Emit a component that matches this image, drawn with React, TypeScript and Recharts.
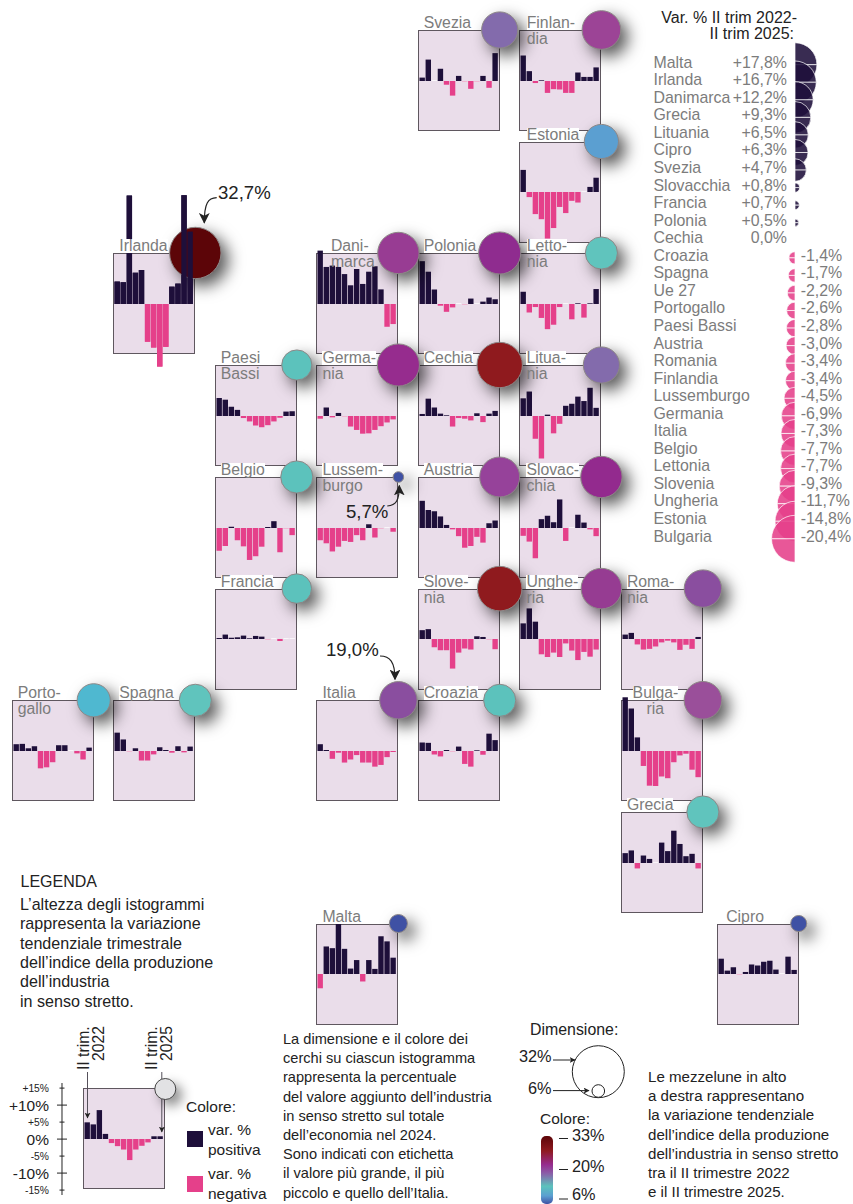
import { Bar, BarChart, Cell, Pie, PieChart, Scatter, ScatterChart, XAxis, YAxis } from "recharts";

const FONT = "'Liberation Sans', Arial, sans-serif";
const DARK = "#1e0f3a";
const PINK = "#e5408a";
const TEXT = "#222222";
const GREY = "#7c7c7c";

// % change per quarter, II 2022 -> II 2025
const svezia = [1.0, 6.3, 0, 3.6, -1.1, -4.3, 1.5, -0.1, -2.3, -0.2, 1.5, -2.0, 8.2];
const finlandia = [7.5, 2.9, -0.6, 0.2, -3.5, -2.4, -2.5, -3.5, -3.5, 2.5, 1.2, 1.2, 4.0];
const estonia = [6.5, -1.5, -6.5, -8.0, -13.7, -10.6, -4.4, -6.2, -2.6, -3.1, 0, 1.5, 4.2];
const irlanda = [6.6, 6.4, 31.9, 9.2, 10.0, -11.1, -12.8, -18.4, -12.6, 5.1, 6.0, 32.0, 21.3];
const danimarca = [15.7, 10.9, 11.3, 10.9, 8.8, 5.5, 10.3, 5.9, 9.5, 11.1, 4.3, -6.7, -5.9];
const polonia = [12.6, 9.5, 4.3, -0.5, -2.3, -1.0, 0, -0.1, 1.6, 0, 0.7, 1.9, 1.4];
const lettonia = [3.6, -2.5, -0.9, -4.1, -7.4, -6.1, -0.9, 0, -4.5, 0.1, -4.0, 0.2, 4.4];
const paesiBassi = [5.3, 4.8, 2.7, 1.8, -0.6, -1.6, -2.8, -3.3, -2.7, -1.6, -0.5, 1.3, 1.4];
const germania = [-0.8, 2.5, -0.4, 0.9, -0.2, -3.1, -4.1, -5.2, -5.1, -4.1, -3.0, -1.9, -1.0];
const cechia = [0.6, 5.1, 2.5, 0.7, 0.2, -3.1, -0.6, -0.8, -1.3, 0.8, -1.8, 0.7, 1.5];
const lituania = [5.2, 7.2, -6.7, -12.5, 0.4, -5.1, -2.3, 3.0, 3.6, 5.7, 4.4, 8.3, 2.4];
const belgio = [-6.7, -5.3, 0.4, -3.6, -5.4, -9.4, -8.3, -5.5, 0.3, 2.0, -7.1, -0.1, -2.1];
const lussemburgo = [-3.6, -4.5, -6.9, -5.5, -3.8, -4.1, -2.1, -3.6, 1.1, -2.8, -0.1, 0, -1.1];
const austria = [8.0, 5.3, 4.9, 3.4, 0.9, -0.4, -2.4, -5.8, -5.3, -2.6, -4.3, 1.4, 2.2];
const slovacchia = [-2.3, -4.0, -8.9, 2.6, 3.6, 1.7, 8.4, -3.8, 0, 3.9, 1.6, -0.4, -2.4];
const francia = [0.3, 1.3, 0.4, 0.5, 1.0, 0.2, 0.9, 0.7, -0.2, 0, -0.6, 0, 0];
const slovenia = [2.6, 2.9, -2.4, -3.3, -3.3, -8.7, -4.0, -2.8, -3.1, 0.8, 0.6, -0.2, -3.0];
const ungheria = [4.6, 9.0, 5.1, -4.5, -5.3, -4.0, -5.3, -1.3, -3.4, -6.2, -3.8, -5.2, -3.1];
const romania = [1.3, 1.8, -1.6, -3.1, -2.9, -2.2, -1.0, -0.5, -1.0, -3.2, -1.7, -2.9, 0.6];
const portogallo = [2.0, 2.1, 0.8, 1.4, -5.1, -4.8, -3.3, 1.7, 1.7, 0, -0.7, -2.5, 1.0];
const spagna = [5.4, 3.4, -0.2, 0.8, -2.8, -2.8, -1.0, 1.1, 0.3, -0.5, 1.4, -0.4, 1.3];
const italia = [2.0, 0.3, -2.3, -0.5, -3.4, -2.5, -1.2, -3.4, -3.4, -4.6, -4.1, -1.8, -0.3];
const croazia = [2.5, 2.4, -1.0, -1.6, 0.3, -0.1, 1.3, -3.8, -4.6, 0.1, -1.1, 5.1, 3.2];
const bulgaria = [15.8, 12.5, 4.0, -4.4, -10.2, -10.3, -7.5, -8.0, -3.3, -1.3, -0.8, -5.5, -7.7];
const grecia = [2.9, 3.7, -1.6, 2.2, 1.2, 0, 6.0, 3.5, 9.5, 5.6, 2.0, 2.7, -1.6];
const malta = [-4.2, 8.1, 7.6, 15.5, 7.4, 1.6, 4.1, -2.2, 4.1, 1.5, 11.1, 9.6, 4.8];
const cipro = [4.5, 1.0, 2.0, -0.1, 0.6, 2.8, 2.5, 3.6, 3.9, 1.3, 0, 5.1, 1.2];
const legendExample = [4.9, 4.3, 8.5, 1.5, -1.2, -2.1, -3.1, -6.2, -3.1, -2.0, -1.0, 0.8, 0.8];

const tileSeries = [
  svezia, finlandia, estonia, irlanda, danimarca, polonia, lettonia, paesiBassi, germania,
  cechia, lituania, belgio, lussemburgo, austria, slovacchia, francia, slovenia, ungheria,
  romania, portogallo, spagna, italia, croazia, bulgaria, grecia, malta, cipro,
];

const tileLabels = [
  ["Svezia"], ["Finlan-", "dia"], ["Estonia"], ["Irlanda"], ["Dani-", "marca"], ["Polonia"],
  ["Letto-", "nia"], ["Paesi", "Bassi"], ["Germa-", "nia"], ["Cechia"], ["Litua-", "nia"],
  ["Belgio"], ["Lussem-", "burgo"], ["Austria"], ["Slovac-", "chia"], ["Francia"],
  ["Slove-", "nia"], ["Unghe-", "ria"], ["Roma-", "nia"], ["Porto-", "gallo"], ["Spagna"],
  ["Italia"], ["Croazia"], ["Bulga-", "ria"], ["Grecia"], ["Malta"], ["Cipro"],
];

const valueAddedShare = [
  18.4, 20.2, 17.4, 32.7, 22.9, 23.6, 16.4, 15.4, 23.6, 26.8, 18.4, 16.4, 5.7, 21.5, 22.9,
  15.1, 26.0, 22.1, 19.0, 16.9, 16.4, 19.0, 16.4, 19.2, 16.4, 9.4, 8.4,
];

const circleColours = [
  "#836bac", "#9c4496", "#5b9fd1", "#5c0508", "#983c93", "#8f2c8f", "#60c4bd", "#5cc2bc", "#962c8e",
  "#8f1a1e", "#836bac", "#5cc2bc", "#3f51a4", "#96429a", "#932a8e", "#5cc2bc", "#8f1a1e", "#963c92",
  "#8a4e9f", "#4fb8d0", "#60c4bd", "#8a4e9f", "#5cc2bc", "#9a4f9a", "#60c4bd", "#3f51a4", "#3f51a4",
];

const tileCorners = [
  [417.7, 30], [519.4, 30], [519.4, 141.5], [113.3, 253], [316.4, 253], [417.7, 253], [519.4, 253],
  [214.8, 365], [316.4, 365], [417.7, 365], [519.4, 365], [214.8, 477], [316.4, 477], [417.7, 477],
  [519.4, 477], [214.8, 588.6], [417.7, 588.6], [519.4, 588.6], [620.9, 588.6], [11.7, 700.3],
  [113.3, 700.3], [316.4, 700.3], [417.7, 700.3], [620.9, 700.3], [620.9, 812], [316.4, 923.5], [716.7, 923.5],
];

const labelOffsets: Record<string, number[]> = {
  Estonia: [7.3], "Finlan-": [7.3, 7.3], "Letto-": [7.3, 7.3], "Litua-": [7, 7], "Slovac-": [7, 7], "Unghe-": [7, 7],
  "Dani-": [14.5, 14.5], "Bulga-": [11.7, 25.7], Cipro: [9.5],
};

const rankNames = [
  "Malta", "Irlanda", "Danimarca", "Grecia", "Lituania", "Cipro", "Svezia", "Slovacchia", "Francia",
  "Polonia", "Cechia", "Croazia", "Spagna", "Ue 27", "Portogallo", "Paesi Bassi", "Austria", "Romania",
  "Finlandia", "Lussemburgo", "Germania", "Italia", "Belgio", "Lettonia", "Slovenia", "Ungheria", "Estonia", "Bulgaria",
];
const rankValues = [
  17.8, 16.7, 12.2, 9.3, 6.5, 6.3, 4.7, 0.8, 0.7, 0.5, 0, -1.4, -1.7, -2.2, -2.6, -2.8, -3.0, -3.4,
  -3.4, -4.5, -6.9, -7.3, -7.7, -7.7, -9.3, -11.7, -14.8, -20.4,
];

const axisTicks = [15, 10, 5, 0, -5, -10, -15];
const axisTickLabels = ["+15%", "+10%", "+5%", "0%", "-5%", "-10%", "-15%"];

const legendLines = [
  "L’altezza degli istogrammi", "rappresenta la variazione", "tendenziale trimestrale",
  "dell’indice della produzione", "dell’industria", "in senso stretto.",
];
const middleLines = [
  "La dimensione e il colore dei", "cerchi su ciascun istogramma", "rappresenta la percentuale",
  "del valore aggiunto dell’industria", "in senso stretto sul totale", "dell’economia nel 2024.",
  "Sono indicati con etichetta", "il valore più grande, il più", "piccolo e quello dell’Italia.",
];
const rightLines = [
  "Le mezzelune in alto", "a destra rappresentano", "la variazione tendenziale",
  "dell’indice della produzione", "dell’industria in senso stretto", "tra il II trimestre 2022", "e il II trimestre 2025.",
];

const TILE_W = 82;
const TILE_H = 101;
const PX_PER_PCT = 3.4;
const CHART_RANGE = 35;

const formatPct = (v: number) => {
  const s = Math.abs(v).toFixed(1).replace(".", ",");
  if (v === 0) return `${s}%`;
  return `${v > 0 ? "+" : "-"}${s}%`;
};

// circle radius is not quite proportional to the share, anchors read off the three labelled circles
const radiusOf = (share: number) =>
  share <= 19 ? 5.3 + ((share - 5.7) * 13.4) / 13.3 : 18.7 + ((share - 19) * 7) / 13.7;

const barColour = (v: number) => {
  if (v === 0) return "#ffffff";
  if (Math.abs(v) <= 0.2 && v < 0) return "#f3a6c8";
  return v > 0 ? DARK : PINK;
};

function TileBars({ values, x, y }: { values: number[]; x: number; y: number }) {
  const height = 2 * CHART_RANGE * PX_PER_PCT;
  const data = values.map((value, i) => ({ quarter: i, value }));
  return (
    <div style={{ position: "absolute", left: x, top: y + TILE_H / 2 - height / 2, width: TILE_W, height }}>
      <BarChart width={TILE_W} height={height} data={data} margin={{ top: 0, right: 1.5, bottom: 0, left: 1.5 }} barSize={5.4}>
        <XAxis dataKey="quarter" hide />
        <YAxis domain={[-CHART_RANGE, CHART_RANGE]} hide />
        <Bar dataKey="value" isAnimationActive={false} minPointSize={0.7}>
          {data.map((d) => (
            <Cell key={d.quarter} fill={barColour(d.value)} />
          ))}
        </Bar>
      </BarChart>
    </div>
  );
}

function TilePanel({ x, y }: { x: number; y: number }) {
  return (
    <div
      style={{
        position: "absolute", left: x, top: y, width: TILE_W, height: TILE_H, boxSizing: "border-box",
        background: "#eaddea", border: "1px solid #5f575f",
      }}
    />
  );
}

function TileLabel({ lines, x, y }: { lines: string[]; x: number; y: number }) {
  const offsets = labelOffsets[lines[0]] ?? [6, 6];
  const base = { position: "absolute" as const, whiteSpace: "nowrap" as const, fontFamily: FONT, fontSize: 15.8, color: GREY };
  return (
    <>
      <div style={{ ...base, left: x + offsets[0], top: y - 14, height: 14, lineHeight: "14px", background: "#fff" }}>{lines[0]}</div>
      {lines[1] && (
        <div style={{ ...base, left: x + offsets[1], top: y + 1, height: 16, lineHeight: "16px" }}>{lines[1]}</div>
      )}
    </>
  );
}

function BubbleDot(props: any) {
  const { cx, cy, payload } = props;
  return (
    <circle
      cx={cx} cy={cy} r={radiusOf(payload.share)} fill={payload.colour} stroke="#8d8787" strokeWidth={1}
      style={{ filter: "drop-shadow(7px 7px 8px rgba(0,0,0,0.65))" }}
    />
  );
}

function AxisTick(props: any) {
  const { x, y, payload } = props;
  const major = Math.abs(payload.value) % 10 === 0;
  const half = major ? 5 : 2.5;
  const label = axisTickLabels[axisTicks.indexOf(payload.value)];
  return (
    <g>
      <line x1={62 - half} x2={62 + half} y1={y} y2={y} stroke={TEXT} />
      <text x={49} y={y + (major ? 5.5 : 3.8)} textAnchor="end" fontFamily={FONT} fontSize={major ? 15.5 : 10.3} fill={TEXT}>
        {label}
      </text>
    </g>
  );
}

function Lines({ lines, x, y, step, size = 14.6 }: { lines: string[]; x: number; y: number; step: number; size?: number }) {
  return (
    <>
      {lines.map((t, i) => (
        <text key={t} x={x} y={y + i * step} fontFamily={FONT} fontSize={size} fill={TEXT}>
          {t}
        </text>
      ))}
    </>
  );
}

const irlandaIndex = 3;

export default function App() {
  const bubbles = tileCorners.map(([x, y], i) => ({
    px: x + TILE_W,
    py: y,
    share: valueAddedShare[i],
    colour: circleColours[i],
  }));
  const axisHeight = 33 * PX_PER_PCT;
  const half = [{ v: 1 }, { v: 1 }];

  return (
    <div style={{ position: "absolute", left: 0, top: 0, width: 853, height: 1204, overflow: "hidden", background: "#fff" }}>
      {tileCorners.map(([x, y], i) => (
        <TilePanel key={i} x={x} y={y} />
      ))}
      <TilePanel x={83.4} y={1088.3} />
      {tileSeries.map((values, i) => (
        <TileBars key={i} values={values} x={tileCorners[i][0]} y={tileCorners[i][1]} />
      ))}
      <TileBars values={legendExample} x={83.4} y={1088.3} />

      <div style={{ position: "absolute", left: 0, top: 0 }}>
        <ScatterChart width={853} height={1204} margin={{ top: 0, right: 0, bottom: 0, left: 0 }}>
          <XAxis type="number" dataKey="px" domain={[0, 853]} hide />
          <YAxis type="number" dataKey="py" domain={[0, 1204]} reversed hide />
          <Scatter data={bubbles} isAnimationActive={false} shape={BubbleDot} />
        </ScatterChart>
      </div>

      {/* Irlanda's bars run over its own circle */}
      <TileBars values={irlanda} x={tileCorners[irlandaIndex][0]} y={tileCorners[irlandaIndex][1]} />

      {tileLabels.map((lines, i) => (
        <TileLabel key={i} lines={lines} x={tileCorners[i][0]} y={tileCorners[i][1]} />
      ))}

      <div style={{ position: "absolute", left: 740, top: 30 }}>
        <PieChart width={113} height={570} margin={{ top: 0, right: 0, bottom: 0, left: 0 }}>
          {rankValues.map((v, i) =>
            v === 0 ? null : (
              <Pie
                key={rankNames[i]}
                data={half}
                dataKey="v"
                cx={55}
                cy={34.7 + 17.56 * i}
                innerRadius={0}
                outerRadius={5.2 * Math.sqrt(Math.abs(v))}
                startAngle={90}
                endAngle={v > 0 ? -90 : 270}
                fill={v > 0 ? DARK : PINK}
                fillOpacity={0.88}
                stroke="#ffffff"
                strokeWidth={0.7}
                isAnimationActive={false}
              />
            ),
          )}
        </PieChart>
      </div>

      <div style={{ position: "absolute", left: 0, top: 1139.2 - axisHeight / 2 }}>
        <BarChart width={72} height={axisHeight} data={legendExample.map((value, i) => ({ i, value }))} margin={{ top: 0, right: 0, bottom: 0, left: 0 }}>
          <XAxis dataKey="i" hide />
          <YAxis
            type="number"
            width={62}
            domain={[-16.5, 16.5]}
            ticks={axisTicks}
            interval={0}
            tick={AxisTick}
            tickLine={false}
            axisLine={{ stroke: TEXT }}
          />
          <Bar dataKey="value" fillOpacity={0} isAnimationActive={false} />
        </BarChart>
      </div>

      <svg width={853} height={1204} style={{ position: "absolute", left: 0, top: 0 }}>
        <defs>
          <linearGradient id="colourScale" x1="0" y1="0" x2="0" y2="1">
            <stop offset="0" stopColor="#5c0508" />
            <stop offset="0.22" stopColor="#8f1a20" />
            <stop offset="0.42" stopColor="#962c8e" />
            <stop offset="0.55" stopColor="#8a5ea8" />
            <stop offset="0.74" stopColor="#5cc2bc" />
            <stop offset="0.88" stopColor="#5b9fd1" />
            <stop offset="1" stopColor="#3f51a4" />
          </linearGradient>
          <marker id="head" viewBox="0 0 10 10" refX="9" refY="5" markerWidth="9" markerHeight="9" orient="auto">
            <path d="M0 0 L10 5 L0 10 L2.5 5 Z" fill={TEXT} />
          </marker>
          <marker id="headSmall" viewBox="0 0 10 10" refX="9" refY="5" markerWidth="6" markerHeight="6" orient="auto">
            <path d="M0 0 L10 5 L0 10 L2.5 5 Z" fill={TEXT} />
          </marker>
        </defs>

        <text x={797} y={23} textAnchor="end" fontFamily={FONT} fontSize={16} fill={TEXT}>Var. % II trim 2022-</text>
        <text x={794} y={38.5} textAnchor="end" fontFamily={FONT} fontSize={16} fill={TEXT}>II trim 2025:</text>
        {rankNames.map((name, i) => {
          const y = 67.7 + 17.55 * i;
          const v = rankValues[i];
          return (
            <g key={name} fontFamily={FONT} fontSize={15.9} fill={GREY}>
              <text x={653.5} y={y}>{name}</text>
              <text x={v < 0 ? 800.7 : 787} y={y} textAnchor={v < 0 ? "start" : "end"}>{formatPct(v)}</text>
            </g>
          );
        })}

        {/* value callouts */}
        <g fontFamily={FONT} fontSize={18.6} fill={TEXT}>
          <text x={218} y={199}>32,7%</text>
          <text x={346} y={518}>5,7%</text>
          <text x={326} y={656}>19,0%</text>
        </g>
        <g fill="none" stroke={TEXT} strokeWidth={1.2}>
          <path d="M216.7 197.7 C208 198 204.3 203 204.3 222.7" markerEnd="url(#head)" />
          <path d="M387.3 506 C396 505 399.3 501 399.3 485.7" markerEnd="url(#head)" />
          <path d="M380 656 C390 656 395 662 395 679.3" markerEnd="url(#head)" />
        </g>

        <text x={20.5} y={887} fontFamily={FONT} fontSize={16} fill={TEXT}>LEGENDA</text>
        <Lines lines={legendLines} x={20} y={910} step={19.3} size={16.1} />
        <Lines lines={middleLines} x={283} y={1044} step={19.2} />
        <Lines lines={rightLines} x={648} y={1082} step={19.2} size={15.1} />

        {/* example tile callouts */}
        <g fontFamily={FONT} fontSize={15.7} fill={TEXT}>
          <text transform="translate(89 1070) rotate(-90)">II trim.</text>
          <text transform="translate(104 1061) rotate(-90)">2022</text>
          <text transform="translate(157 1070) rotate(-90)">II trim.</text>
          <text transform="translate(172 1061) rotate(-90)">2025</text>
        </g>
        <g stroke="#55505a" strokeWidth={1} fill="none">
          <path d="M87.5 1072 V1118" markerEnd="url(#headSmall)" />
          <path d="M161.8 1072 V1132" markerEnd="url(#headSmall)" />
        </g>
        <circle cx={165.3} cy={1089} r={10.5} fill="#e2e2e4" stroke="#444" style={{ filter: "drop-shadow(6px 6px 6px rgba(0,0,0,0.45))" }} />

        <text x={186} y={1112} fontFamily={FONT} fontSize={15.5} fill={TEXT}>Colore:</text>
        <rect x={187} y={1131} width={16} height={16} fill={DARK} />
        <rect x={187} y={1176} width={16} height={16} fill={PINK} />
        <Lines lines={["var. %", "positiva"]} x={208} y={1135} step={19.5} size={15.5} />
        <Lines lines={["var. %", "negativa"]} x={208} y={1179} step={20} size={15.5} />

        {/* size and colour keys */}
        <text x={530} y={1035} fontFamily={FONT} fontSize={15.9} fill={TEXT}>Dimensione:</text>
        <circle cx={598.3} cy={1071.7} r={26} fill="#fff" stroke={TEXT} />
        <circle cx={598.3} cy={1091} r={6.3} fill="#fff" stroke={TEXT} />
        <g fontFamily={FONT} fontSize={16.3} fill={TEXT}>
          <text x={519} y={1062}>32%</text>
          <text x={528} y={1094}>6%</text>
          <text x={572} y={1141}>33%</text>
          <text x={572} y={1172}>20%</text>
          <text x={572} y={1200}>6%</text>
        </g>
        <g stroke={TEXT} strokeWidth={1} fill="none">
          <path d="M553 1060 H575" markerEnd="url(#headSmall)" />
          <path d="M553 1090.6 H589" markerEnd="url(#headSmall)" />
          <path d="M559 1138.5 H568 M559 1169.5 H568 M559 1199 H568" />
        </g>
        <text x={540} y={1124} fontFamily={FONT} fontSize={15.5} fill={TEXT}>Colore:</text>
        <rect x={541} y={1136} width={12} height={68} rx={5} fill="url(#colourScale)" />
      </svg>
    </div>
  );
}
